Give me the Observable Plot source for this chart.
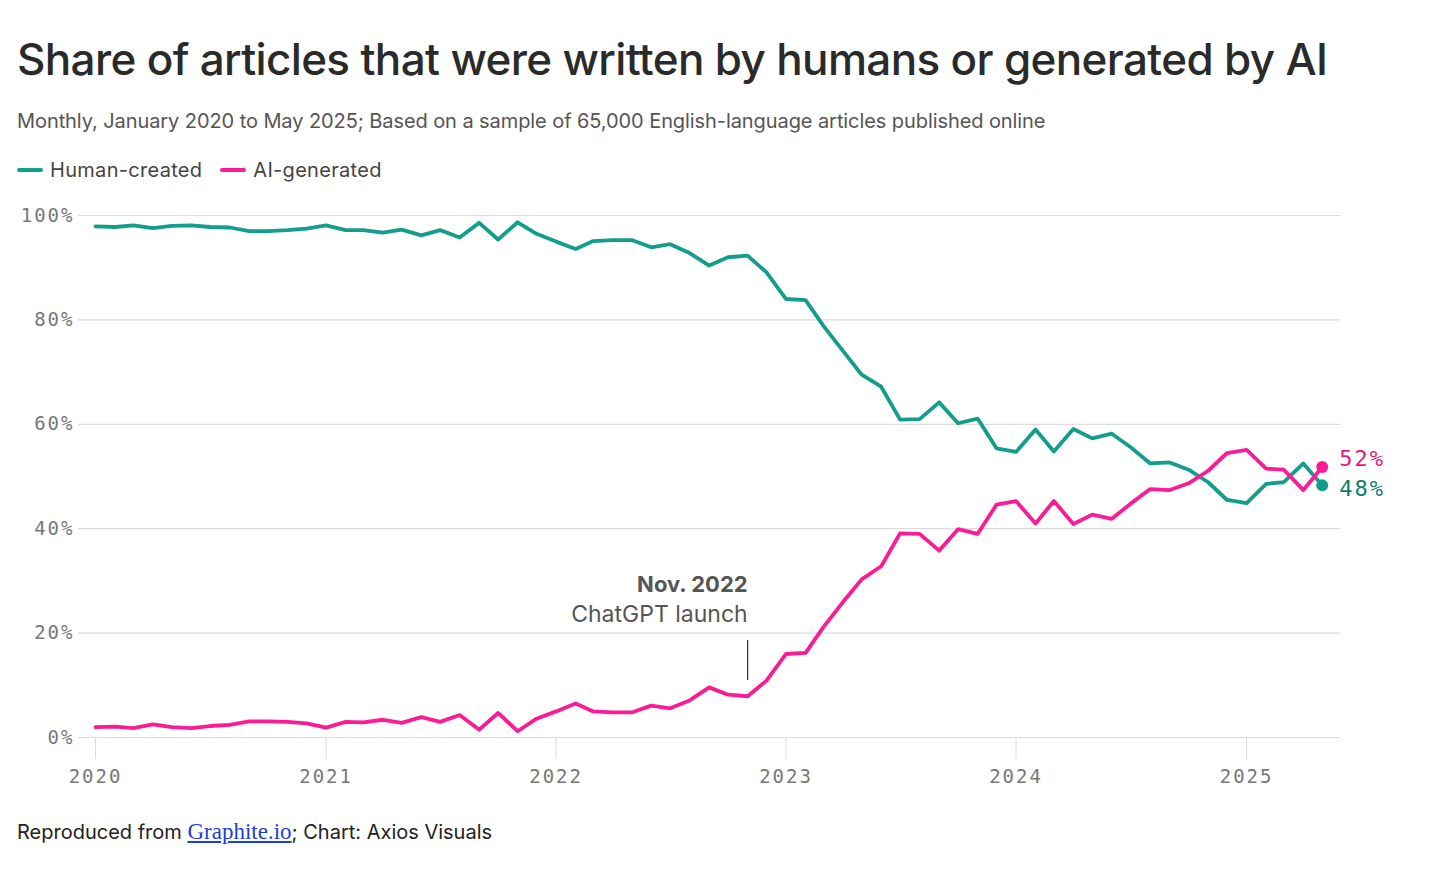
<!DOCTYPE html>
<html>
<head>
<meta charset="utf-8">
<script src="https://cdn.jsdelivr.net/npm/d3@7"></script>
<script src="https://cdn.jsdelivr.net/npm/@observablehq/plot@0.6"></script>
<style>
  body { margin: 0; background: #fff; width: 1456px; height: 888px; position: relative; overflow: hidden; font-family: Inter, "Noto Sans", sans-serif; }
  .t { position: absolute; left: 17px; line-height: 1; white-space: nowrap; }
  #title { top: 37px; font-size: 44px; font-weight: 500; color: #2a2a2a; letter-spacing: -0.65px; }
  #subtitle { top: 111px; font-size: 20px; color: #555; letter-spacing: -0.08px; }
  #legend { top: 160px; font-size: 20px; color: #444; display: flex; align-items: center; letter-spacing: 0.3px; }
  #legend .sw { display: inline-block; width: 26px; height: 4px; border-radius: 2px; margin-right: 7px; }
  #legend .item { display: inline-flex; align-items: center; margin-right: 18px; }
  #caption { top: 820px; font-size: 20px; color: #222; letter-spacing: 0px; }
  #caption a { font-family: "Liberation Serif", "DejaVu Serif", serif; color: #1a3ed8; text-decoration: underline; font-size: 23px; }
  #chart { position: absolute; left: 0; top: 195px; }
</style>
</head>
<body>
<div id="title" class="t">Share of articles that were written by humans or generated by AI</div>
<div id="subtitle" class="t">Monthly, January 2020 to May 2025; Based on a sample of 65,000 English-language articles published online</div>
<div id="legend" class="t"></div>
<div id="chart"></div>
<div id="caption" class="t">Reproduced from <a href="#">Graphite.io</a>; Chart: Axios Visuals</div>
<script>
const seriesNames = ["Human-created", "AI-generated"];
const seriesColors = ["#139e8c", "#fb1b94"];
const labelColors = ["#0e7f70", "#e8177f"];

const startMonth = "2020-01-01";
const endMonth = "2025-05-01";

const human = [
  97.9, 97.8, 98.1, 97.6, 98.0, 98.1, 97.8, 97.7, 97.0, 97.0, 97.2, 97.5,
  98.1, 97.2, 97.2, 96.7, 97.3, 96.2, 97.2, 95.8, 98.6, 95.4, 98.7, 96.5,
  95.0, 93.6, 95.1, 95.3, 95.3, 93.9, 94.5, 92.8, 90.4, 92.0, 92.3, 89.1,
  84.0, 83.8, 78.9, 74.1, 69.5, 67.2, 60.9, 61.0, 64.2, 60.2, 61.1, 55.4,
  54.7, 59.0, 54.8, 59.1, 57.3, 58.2, 55.6, 52.5, 52.7, 51.3, 48.9, 45.5,
  44.9, 48.6, 48.9, 52.5, 48.3
];
const ai = [
  2.0, 2.1, 1.8, 2.5, 2.0, 1.8, 2.2, 2.4, 3.1, 3.1, 3.0, 2.7,
  1.9, 3.0, 2.9, 3.4, 2.8, 3.9, 3.0, 4.3, 1.5, 4.7, 1.2, 3.6,
  5.0, 6.5, 5.0, 4.8, 4.8, 6.1, 5.6, 7.1, 9.6, 8.2, 7.9, 10.9,
  16.0, 16.2, 21.1, 25.9, 30.3, 32.8, 39.1, 39.0, 35.8, 39.9, 39.0, 44.6,
  45.3, 41.0, 45.3, 40.9, 42.7, 41.9, 44.8, 47.6, 47.4, 48.7, 51.1, 54.5,
  55.1, 51.5, 51.3, 47.4, 51.8
];
const endLabels = ["48%", "52%"];
const endLabelDy = [4, -8];

const yTicks = [0, 20, 40, 60, 80, 100];
const xTickYears = ["2020", "2021", "2022", "2023", "2024", "2025"];

const annotationDate = "2022-11-01";
const annotationTitle = "Nov. 2022";
const annotationText = "ChatGPT launch";
const annotationTitleY = 29.2;
const annotationTextY = 23.6;
const annotationRule = [10.9, 18.6];

const xDomain = ["2019-12-05", "2025-05-30"];

// build table
const months = d3.utcMonth.range(new Date(startMonth), d3.utcMonth.offset(new Date(endMonth), 1));
const data = [];
[human, ai].forEach((vals, si) => {
  vals.forEach((v, i) => data.push({date: months[i], value: v, series: seriesNames[si]}));
});
const lastPoints = [human, ai].map((vals, si) => ({
  date: months[vals.length - 1], value: vals[vals.length - 1], series: seriesNames[si],
  label: endLabels[si], color: labelColors[si]
}));

// legend
const legend = document.getElementById("legend");
seriesNames.forEach((n, i) => {
  const it = document.createElement("span");
  it.className = "item";
  it.innerHTML = `<span class="sw" style="background:${seriesColors[i]}"></span>${n}`;
  legend.appendChild(it);
});

const mono = "'DejaVu Sans Mono', 'Liberation Mono', monospace";
const sans = "Inter, 'Noto Sans', sans-serif";
const chart = Plot.plot({
  width: 1456,
  height: 600,
  marginTop: 20,
  marginBottom: 58,
  marginLeft: 78,
  marginRight: 116,
  style: {fontFamily: mono, fontSize: "19px", color: "#777", background: "transparent"},
  x: {type: "utc", domain: xDomain.map(d => new Date(d)), label: null},
  y: {domain: [0, 100], label: null},
  color: {domain: seriesNames, range: seriesColors},
  marks: [
    Plot.gridY(yTicks, {stroke: "#dcdcdc", strokeOpacity: 1, strokeWidth: 1.2}),
    Plot.axisY(yTicks, {tickSize: 0, tickPadding: 4, tickFormat: d => d + "%", fill: "#777", fontSize: 19, fontFamily: mono, label: null}),
    Plot.axisX(xTickYears.map(y => new Date(y + "-01-01")), {tickSize: 22, tickPadding: 10, stroke: "#dcdcdc", tickFormat: d3.utcFormat("%Y"), fill: "#777", fontSize: 19, fontFamily: mono, label: null}),
    Plot.ruleX([annotationDate], {x: d => new Date(d), y1: annotationRule[0], y2: annotationRule[1], stroke: "#333", strokeWidth: 1.2}),
    Plot.text([annotationTitle], {x: () => new Date(annotationDate), y: annotationTitleY, text: d => d, textAnchor: "end", fontFamily: sans, fontWeight: 700, fontSize: 22, fill: "#555"}),
    Plot.text([annotationText], {x: () => new Date(annotationDate), y: annotationTextY, text: d => d, textAnchor: "end", fontFamily: sans, fontSize: 23, fill: "#555"}),
    Plot.line(data, {x: "date", y: "value", z: "series", stroke: "series", strokeWidth: 3.8, strokeLinejoin: "round", strokeLinecap: "round"}),
    Plot.dot(lastPoints, {x: "date", y: "value", fill: "series", r: 6}),
    Plot.text([lastPoints[0]], {x: "date", y: "value", text: "label", fill: "color", dx: 17, dy: endLabelDy[0], textAnchor: "start", fontFamily: mono, fontSize: 22}),
    Plot.text([lastPoints[1]], {x: "date", y: "value", text: "label", fill: "color", dx: 17, dy: endLabelDy[1], textAnchor: "start", fontFamily: mono, fontSize: 22})
  ]
});
// monospaced labels in the reference are letter-spaced
chart.querySelectorAll("g[font-family*='Mono']").forEach(g => { g.style.letterSpacing = "2px"; });
document.getElementById("chart").appendChild(chart);
</script>
</body>
</html>
